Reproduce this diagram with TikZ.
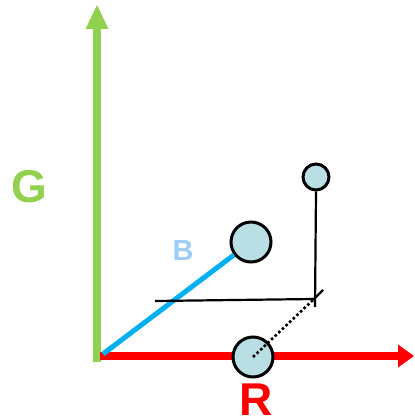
\documentclass[tikz,border=0pt]{standalone}
\usepackage{fontspec}
\setmainfont{Liberation Sans}
\begin{document}
\begin{tikzpicture}[x=1pt,y=-1pt,
  axisG/.style={line width=8pt, draw=gG},
  axisR/.style={line width=7.5pt, draw=rR},
  ball/.style={circle, draw=black, line width=3pt, fill=bF, inner sep=0pt},
  guide/.style={draw=black, line width=2.2pt},
  lbl/.style={font=\bfseries, inner sep=0pt}]
\definecolor{gG}{HTML}{92D050}
\definecolor{rR}{HTML}{FF0000}
\definecolor{bL}{HTML}{00B0F0}
\definecolor{bF}{HTML}{B9DFE4}
\definecolor{bT}{HTML}{9DCDF5}
\useasboundingbox (0,0) rectangle (414,419);
% coordinates
\coordinate (O) at (97,362);
\coordinate (Gtip) at (97,5);
\coordinate (Gbase) at (97,28);
\coordinate (Rstart) at (100,356);
\coordinate (Rbase) at (399,356);
\coordinate (Rtip) at (414,356);
\coordinate (Bstart) at (103,354);
\coordinate (P) at (314,299);
\coordinate (Hl) at (155,301);
\coordinate (T) at (323,290);
\coordinate (Vb) at (315,307);
% green axis
\draw[axisG] (O) -- (Gbase);
\fill[gG] (Gtip) -- (108.5,29) -- (85.5,29) -- cycle;
% red axis
\draw[axisR] (Rstart) -- (Rbase);
\fill[rR] (Rtip) -- (398,344.5) -- (398,367.5) -- cycle;
% balls
\node[ball, minimum size=40pt] (big) at (251,242) {};
\node[ball, minimum size=26pt] (small) at (316,177) {};
\node[ball, minimum size=40pt] (rb) at (253,357) {};
% blue line
\draw[line width=5pt, draw=bL] (Bstart) -- (big);
% guides
\draw[guide] (small.south) -- (Vb);
\draw[guide] (Hl) -- (P);
\draw[guide] (P) -- (T);
\draw[line width=2.6pt, dash pattern=on 2.6pt off 2.4pt] (rb.center) -- (P);
% labels
\node[lbl, text=gG, font=\fontsize{46}{46}\selectfont\bfseries] (gl) at (29,187) {G};
\node[lbl, text=bT, font=\fontsize{29}{29}\selectfont\bfseries] (bl) at (183,251) {B};
\node[lbl, text=rR, font=\fontsize{46}{46}\selectfont\bfseries, anchor=base] (rl) at (256,415) {R};
\end{tikzpicture}
\end{document}
